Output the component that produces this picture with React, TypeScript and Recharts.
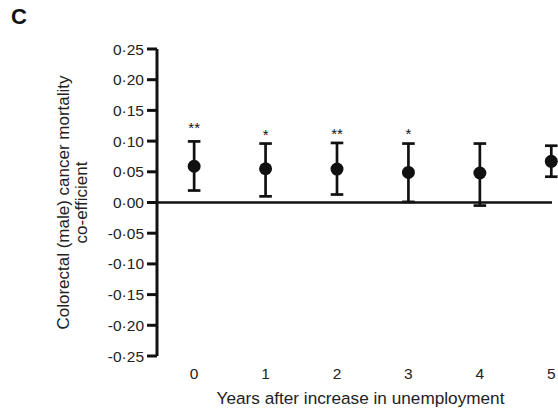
import React from 'react';
import { ComposedChart, Scatter, XAxis, YAxis, ErrorBar, ReferenceLine, Customized } from 'recharts';

const years = [0, 1, 2, 3, 4, 5];
const coef = [0.059, 0.055, 0.0545, 0.049, 0.048, 0.067];
const lower = [0.0195, 0.01, 0.013, 0.001, -0.005, 0.042];
const upper = [0.0995, 0.096, 0.097, 0.096, 0.096, 0.0925];
const stars = ['**', '*', '**', '*', '', ''];
const starPos = [0.127, 0.115, 0.117, 0.117, null, null];
const yTicks = [-0.25, -0.2, -0.15, -0.1, -0.05, 0, 0.05, 0.1, 0.15, 0.2, 0.25];
const xTicks = [0, 1, 2, 3, 4, 5];

const data = years.map((y, i) => ({
  year: y,
  coef: coef[i],
  err: [coef[i] - lower[i], upper[i] - coef[i]],
  star: starPos[i],
  starText: stars[i],
}));
const starData = data.filter((d) => d.star !== null);

const FONT = '"Liberation Sans", Arial, sans-serif';
const INK = '#111';

const fmtY = (v: number) => {
  const s = Math.abs(v) < 1e-9 ? '0.00' : v.toFixed(2);
  return s.replace('.', '\u00B7');
};

const Dot = (props: any) => <circle cx={props.cx} cy={props.cy} r={6.5} fill={INK} />;

const Star = (props: any) => (
  <text x={props.cx} y={props.cy + 8} textAnchor="middle" fontSize={15} fontFamily={FONT} fill={INK}>
    {props.payload.starText}
  </text>
);

const YTitle = (props: any) => {
  const vb = props.viewBox;
  const cy = vb.y + vb.height / 2;
  const x1 = vb.x - 28;
  const x2 = vb.x - 10.5;
  return (
    <g fontFamily={FONT} fontSize={17} fill="#222">
      <text x={x1} y={cy} textAnchor="middle" transform={`rotate(-90, ${x1}, ${cy})`}>
        Colorectal (male) cancer mortality
      </text>
      <text x={x2} y={cy} textAnchor="middle" transform={`rotate(-90, ${x2}, ${cy})`}>
        co-efficient
      </text>
    </g>
  );
};

const XTitle = (props: any) => {
  const vb = props.viewBox;
  return (
    <text x={vb.x + vb.width / 2 + 6} y={404} textAnchor="middle" fontFamily={FONT} fontSize={17.2} fill="#222">
      Years after increase in unemployment
    </text>
  );
};

const PanelLetter = () => (
  <text x={11} y={24} fontFamily={FONT} fontSize={22} fontWeight="bold" fill={INK}>
    C
  </text>
);

export default function App() {
  return (
    <div style={{ position: 'absolute', left: 0, top: 0, width: 558, height: 414, background: '#fff' }}>
      <ComposedChart width={558} height={414} data={data} margin={{ top: 49, right: 6, bottom: 28, left: 97 }}>
        <XAxis
          dataKey="year"
          type="number"
          domain={[-0.52, 5.01]}
          ticks={xTicks}
          axisLine={false}
          tickLine={false}
          tickSize={8}
          tickMargin={4}
          height={30}
          tick={{ fontSize: 15.5, fontFamily: FONT, fill: '#222' }}
          label={<XTitle />}
        />
        <YAxis
          type="number"
          domain={[-0.25, 0.25]}
          ticks={yTicks}
          tickFormatter={fmtY}
          width={60}
          axisLine={{ stroke: INK, strokeWidth: 3 }}
          tickLine={{ stroke: INK, strokeWidth: 3 }}
          tickSize={10}
          tickMargin={3}
          interval={0}
          tick={{ fontSize: 15.5, fontFamily: FONT, fill: '#222' }}
          label={<YTitle />}
        />
        <ReferenceLine y={0} stroke={INK} strokeWidth={2.7} />
        <Scatter dataKey="coef" shape={<Dot />} isAnimationActive={false}>
          <ErrorBar dataKey="err" direction="y" width={6.3} strokeWidth={2.7} stroke={INK} />
        </Scatter>
        <Scatter data={starData} dataKey="star" shape={<Star />} isAnimationActive={false} />
        <Customized component={PanelLetter} />
      </ComposedChart>
    </div>
  );
}
